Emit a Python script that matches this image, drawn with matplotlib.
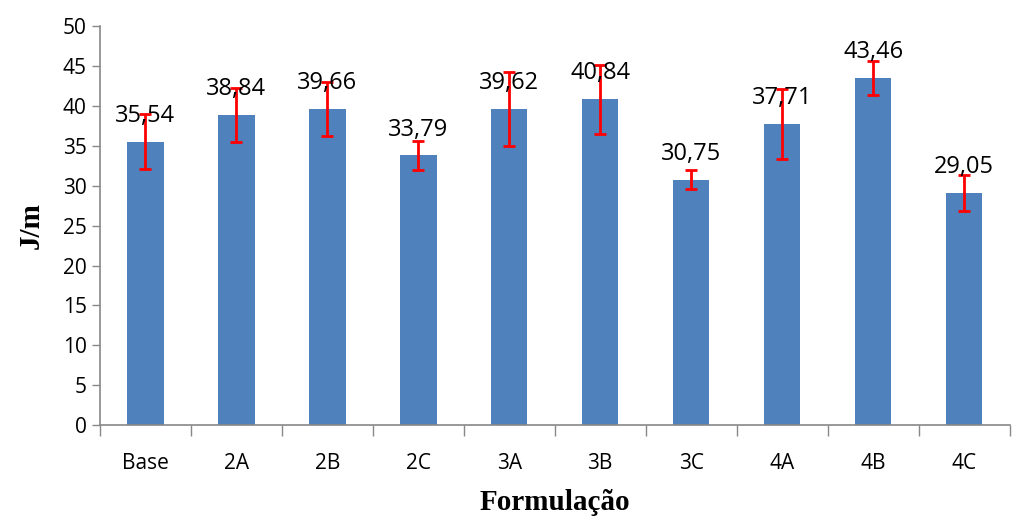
import matplotlib
matplotlib.use('Agg')
import matplotlib.pyplot as plt
import numpy as np

# Dados do gráfico
formulacoes = ['Base', '2A', '2B', '2C', '3A', '3B', '3C', '4A', '4B', '4C']
valores = [35.54, 38.84, 39.66, 33.79, 39.62, 40.84, 30.75, 37.71, 43.46, 29.05]
erros = [3.4, 3.35, 3.4, 1.85, 4.65, 4.3, 1.2, 4.35, 2.15, 2.25]

fig = plt.figure(figsize=(10.14, 5.16), dpi=100)
ax = fig.add_axes([0.0986, 0.176, 0.897, 0.7734])

x = np.arange(len(formulacoes))
ax.bar(x, valores, width=0.4, color='#4F81BD', zorder=2)
ax.errorbar(x, valores, yerr=erros, fmt='none', ecolor='red', elinewidth=2,
            capsize=4, capthick=2, zorder=3)

# Rótulos de dados
for xi, v in zip(x, valores):
    ax.annotate(f"{v:.2f}".replace('.', ','), (xi, v), xytext=(0, 10),
                textcoords='offset points', ha='center', va='bottom',
                fontsize=17, family='Open Sans', zorder=4)

ax.set_xlim(-0.5, len(formulacoes) - 0.5)
ax.set_ylim(0, 50)
ax.set_yticks(np.arange(0, 51, 5))

# Marcas nas fronteiras das categorias, rótulos no centro
ax.set_xticks(np.arange(-0.5, len(formulacoes), 1))
ax.set_xticklabels([])
ax.set_xticks(x, minor=True)
ax.set_xticklabels(formulacoes, minor=True, family='Open Sans', fontsize=15)
ax.tick_params(axis='x', which='major', length=8, color='#888888', width=1)
ax.tick_params(axis='x', which='minor', length=0, pad=20)
ax.tick_params(axis='y', length=6, color='#888888', width=1, labelsize=15)
for lab in ax.get_yticklabels():
    lab.set_family('Open Sans')

for s in ['top', 'right']:
    ax.spines[s].set_visible(False)
for s in ['left', 'bottom']:
    ax.spines[s].set_color('#888888')
    ax.spines[s].set_linewidth(1.2)

ax.set_xlabel('Formulação', family='Liberation Serif', fontweight='bold',
              fontsize=21, labelpad=11)
ax.set_ylabel('J/m', family='Liberation Serif', fontweight='bold',
              fontsize=21, labelpad=13)

plt.savefig('out.png', dpi=100)
plt.close(fig)
